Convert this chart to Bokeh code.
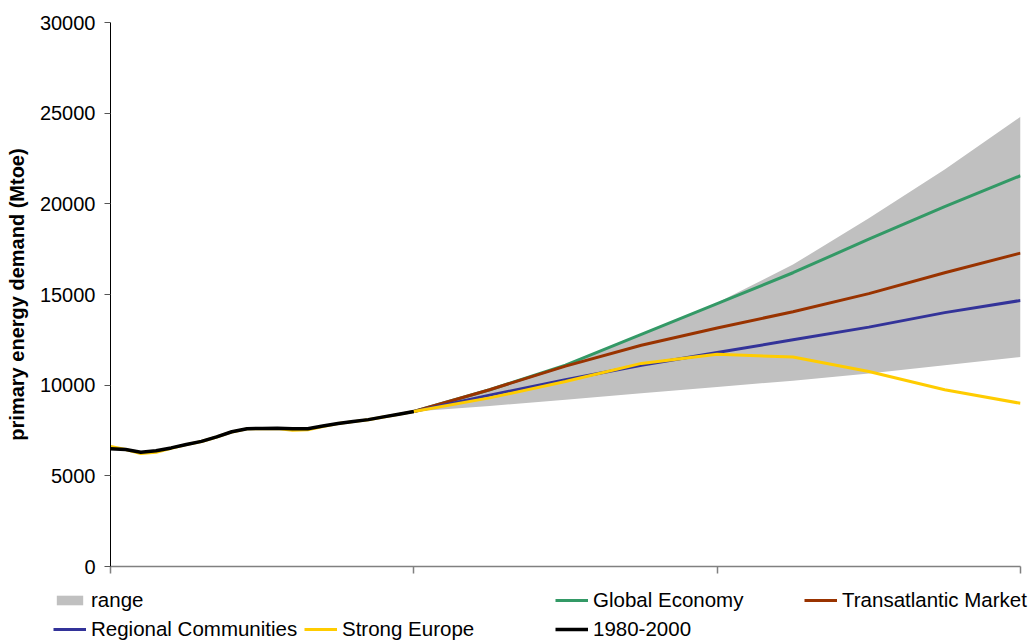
from bokeh.plotting import figure
from bokeh.layouts import column
from bokeh.models import (ColumnDataSource, Range1d, FixedTicker, NumeralTickFormatter,
                          Legend, LegendItem)
from bokeh.embed import file_html
from bokeh.resources import INLINE

# --- data -----------------------------------------------------------------
hist_years = list(range(1980, 2001))
hist_demand = [6500, 6450, 6300, 6380, 6540, 6730, 6900, 7150, 7430, 7600, 7610,
               7620, 7590, 7600, 7750, 7890, 8000, 8100, 8250, 8400, 8550]
strong_europe_hist = [6620, 6450, 6230, 6300, 6520, 6720, 6890, 7140, 7420, 7590, 7600,
                      7610, 7520, 7540, 7720, 7880, 7990, 8090, 8240, 8390, 8550]

scen_years = [2000, 2005, 2010, 2015, 2020, 2025, 2030, 2035, 2040]
global_economy = [8550, 9750, 11100, 12800, 14500, 16200, 18050, 19850, 21550]
transatlantic_market = [8550, 9750, 11050, 12200, 13150, 14050, 15050, 16200, 17280]
regional_communities = [8550, 9450, 10300, 11100, 11800, 12500, 13200, 14000, 14670]
strong_europe_future = [8550, 9300, 10200, 11200, 11700, 11550, 10750, 9750, 9000]
range_low = [8550, 8850, 9200, 9550, 9900, 10250, 10650, 11100, 11550]
range_high = [8550, 9750, 11100, 12750, 14550, 16650, 19200, 21900, 24800]

y_ticks = [0, 5000, 10000, 15000, 20000, 25000, 30000]
x_ticks = [1980, 2000, 2020, 2040]

FONT = "Liberation Sans"
GRAY_FILL = "#C0C0C0"
COLORS = {"ge": "#339966", "tm": "#993300", "rc": "#333399", "se": "#FFCC00", "hist": "black"}

scen_src = ColumnDataSource(dict(year=scen_years, ge=global_economy, tm=transatlantic_market,
                                 rc=regional_communities, lo=range_low, hi=range_high))
se_src = ColumnDataSource(dict(year=hist_years + scen_years[1:],
                               v=strong_europe_hist + strong_europe_future[1:]))
hist_src = ColumnDataSource(dict(year=hist_years, v=hist_demand))


def draw_series(fig):
    """Draw the band and the five series on a figure; return the renderers."""
    return dict(
        rng=fig.varea(x="year", y1="lo", y2="hi", source=scen_src, fill_color=GRAY_FILL),
        ge=fig.line("year", "ge", source=scen_src, line_color=COLORS["ge"], line_width=3),
        tm=fig.line("year", "tm", source=scen_src, line_color=COLORS["tm"], line_width=3),
        rc=fig.line("year", "rc", source=scen_src, line_color=COLORS["rc"], line_width=3),
        se=fig.line("year", "v", source=se_src, line_color=COLORS["se"], line_width=3),
        hist=fig.line("year", "v", source=hist_src, line_color=COLORS["hist"], line_width=3.5),
    )


# --- chart ----------------------------------------------------------------
p = figure(width=1034, height=578, output_backend="svg", toolbar_location=None,
           x_range=Range1d(1980, 2040), y_range=Range1d(0, 30000),
           min_border_left=110, min_border_right=14, min_border_top=22,
           min_border_bottom=12)
p.frame_align = False
p.outline_line_color = None
p.xgrid.visible = False
p.ygrid.visible = False
p.background_fill_color = "white"
p.border_fill_color = "white"

draw_series(p)

yax = p.yaxis[0]
yax.ticker = FixedTicker(ticks=y_ticks)
yax.formatter = NumeralTickFormatter(format="0")
yax.major_tick_out = 6
yax.major_tick_in = 0
yax.minor_tick_line_color = None
yax.axis_line_color = "black"
yax.major_tick_line_color = "#555555"
yax.major_label_text_font = FONT
yax.major_label_text_font_size = "20px"
yax.major_label_text_color = "black"
yax.major_label_standoff = 9
yax.axis_label = "primary energy demand (Mtoe)"
yax.axis_label_text_font = FONT
yax.axis_label_text_font_size = "20px"
yax.axis_label_text_font_style = "bold"
yax.axis_label_text_color = "black"
yax.axis_label_standoff = 9

# unlabeled marks on the time axis
xax = p.xaxis[0]
xax.ticker = FixedTicker(ticks=[], minor_ticks=x_ticks)
xax.major_tick_line_color = None
xax.minor_tick_out = 7
xax.minor_tick_in = 0
xax.minor_tick_line_color = "#808080"
xax.minor_tick_line_width = 1.5
xax.axis_line_color = "#808080"
xax.axis_line_width = 1.5

# --- legend strip ---------------------------------------------------------
# The strip re-uses the series; its ranges keep the lines themselves out of view,
# so only the legend swatches show.
leg = figure(width=1034, height=63, output_backend="svg", toolbar_location=None,
             x_range=Range1d(0, 1), y_range=Range1d(0, 1),
             x_axis_location=None, y_axis_location=None,
             min_border_left=0, min_border_right=0, min_border_top=0, min_border_bottom=0)
leg.frame_align = False
leg.outline_line_color = None
leg.xgrid.visible = False
leg.ygrid.visible = False
leg.border_fill_color = "white"
sw = draw_series(leg)

entries = [
    ("range", "rng", 53, 29, 12),
    ("Global Economy", "ge", 555, 29, 22),
    ("Transatlantic Market", "tm", 804, 29, 22),
    ("Regional Communities", "rc", 53, 0, 22),
    ("Strong Europe", "se", 304, 0, 22),
    ("1980-2000", "hist", 555, 0, 22),
]
for label, key, left, bottom, gh in entries:
    lg = Legend(items=[LegendItem(label=label, renderers=[sw[key]])],
                location=(left, bottom),
                glyph_width=33, glyph_height=gh, label_height=gh,
                label_standoff=5, padding=0, margin=0, spacing=0,
                border_line_color=None, background_fill_alpha=0,
                label_text_font=FONT, label_text_font_size="20.5px",
                label_text_color="black")
    leg.add_layout(lg, "center")

layout = column(p, leg, spacing=0)
open("out.html", "w").write(file_html(layout, INLINE))
